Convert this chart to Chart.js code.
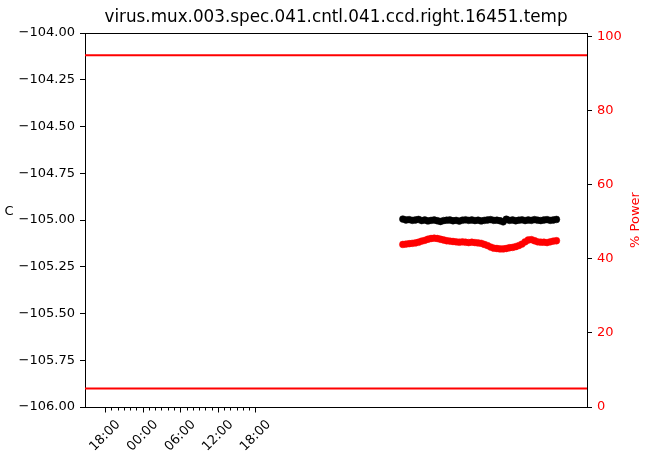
<!DOCTYPE html>
<html lang="en">
<head>
<meta charset="UTF-8">
<title>virus.mux.003.spec.041.cntl.041.ccd.right.16451.temp</title>
<style>
  html, body { margin: 0; padding: 0; background: #ffffff; }
  #wrap { width: 653px; height: 457px; }
</style>
</head>
<body>
<div id="wrap"><canvas id="chart" width="653" height="457"></canvas></div>
<script src="https://cdn.jsdelivr.net/npm/chart.js"></script>
<script>
// sample times, in hours after the first 18:00 tick
const hours = [
  47.5, 48.0, 48.5, 49.0, 49.5, 50.0, 50.5, 51.0, 51.5, 52.0,
  52.5, 53.0, 53.5, 54.0, 54.5, 55.0, 55.5, 56.0, 56.5, 57.0,
  57.5, 58.0, 58.5, 59.0, 59.5, 60.0, 60.5, 61.0, 61.5, 62.0,
  62.5, 63.0, 63.5, 64.0, 64.5, 65.0, 65.5, 66.0, 66.5, 67.0,
  67.5, 68.0, 68.5, 69.0, 69.5, 70.0, 70.5, 71.0, 71.5, 72.0
];
// ccd temperature, C
const tempC = [
  -104.995, -105.000, -104.998, -105.002, -105.000, -104.997, -105.003, -105.000, -105.005, -105.002,
  -105.000, -105.004, -105.008, -105.003, -105.001, -105.000, -105.004, -105.002, -105.006, -105.001,
  -104.999, -105.002, -105.000, -105.003, -105.001, -105.005, -105.002, -105.000, -104.998, -105.002,
  -105.001, -105.004, -105.010, -104.996, -105.002, -105.000, -105.004, -105.001, -104.999, -105.003,
  -105.000, -105.002, -104.998, -105.001, -105.003, -105.000, -104.998, -105.002, -105.000, -104.997
];
// heater power, %
const powerPct = [
  43.9, 44.0, 44.1, 44.2, 44.3, 44.5, 44.8, 45.0, 45.3, 45.5,
  45.6, 45.5, 45.3, 45.1, 44.9, 44.8, 44.7, 44.6, 44.5, 44.6,
  44.5, 44.4, 44.5, 44.4, 44.3, 44.2, 43.9, 43.6, 43.2, 42.9,
  42.8, 42.7, 42.7, 42.8, 43.0, 43.1, 43.3, 43.6, 44.0, 44.6,
  45.1, 45.2, 44.9, 44.6, 44.5, 44.5, 44.4, 44.6, 44.8, 44.9
];
// power limits, %
const powerLimits = [95, 5];
const xRange = [-3.19, 76.87];
const xTickHours = [0, 6, 12, 18, 24];
const xTickLabels = ['18:00', '00:00', '06:00', '12:00', '18:00'];
const xMinorHours = [1, 2, 3, 4, 5, 7, 8, 9, 10, 11, 13, 14, 15, 16, 17, 19, 20, 21, 22, 23];
const tempTicks = [-106, -105.75, -105.5, -105.25, -105, -104.75, -104.5, -104.25, -104];
const powerTicks = [0, 20, 40, 60, 80, 100];

const FONT = 'DejaVu Sans';
const RED = '#ff0000';

const fmtTemp = v => v.toFixed(2).replace('-', '\u2212');

const decorations = {
  id: 'decorations',
  afterDraw(chart) {
    const ctx = chart.ctx;
    const a = chart.chartArea;
    const x = chart.scales.x;
    ctx.save();
    ctx.strokeStyle = '#000';
    ctx.lineWidth = 1;
    // top spine
    ctx.beginPath();
    ctx.moveTo(a.left, Math.round(a.top) + 0.5);
    ctx.lineTo(a.right, Math.round(a.top) + 0.5);
    ctx.stroke();
    // x ticks
    const base = Math.round(a.bottom) + 0.5;
    ctx.beginPath();
    xTickHours.forEach(h => {
      const px = Math.round(x.getPixelForValue(h)) + 0.5;
      ctx.moveTo(px, base); ctx.lineTo(px, base + 5);
    });
    xMinorHours.forEach(h => {
      const px = Math.round(x.getPixelForValue(h)) + 0.5;
      ctx.moveTo(px, base); ctx.lineTo(px, base + 3);
    });
    ctx.stroke();
    // rotated x labels, bbox centred under the tick
    ctx.font = '13px "' + FONT + '"';
    ctx.fillStyle = '#000';
    ctx.textAlign = 'center';
    ctx.textBaseline = 'middle';
    xTickHours.forEach((h, i) => {
      const px = x.getPixelForValue(h);
      const w = ctx.measureText(xTickLabels[i]).width;
      const H = (w + 10) * Math.SQRT1_2;
      ctx.save();
      ctx.translate(px, a.bottom + 12 + H / 2);
      ctx.rotate(-Math.PI / 4);
      ctx.fillText(xTickLabels[i], 0, 0);
      ctx.restore();
    });
    // title
    ctx.font = '16.8px "' + FONT + '"';
    ctx.fillText('virus.mux.003.spec.041.cntl.041.ccd.right.16451.temp', (a.left + a.right) / 2, 18);
    // left label
    ctx.font = '13px "' + FONT + '"';
    ctx.fillText('C', 9, 212);
    // right label
    ctx.fillStyle = RED;
    ctx.save();
    ctx.translate(636, (a.top + a.bottom) / 2);
    ctx.rotate(-Math.PI / 2);
    ctx.fillText('% Power', 0, 0);
    ctx.restore();
    ctx.restore();
  }
};

const limitSets = powerLimits.map(v => ({
  data: [{ x: xRange[0], y: v }, { x: xRange[1], y: v }],
  borderColor: RED,
  borderWidth: 2,
  pointRadius: 0,
  yAxisID: 'yPower'
}));

new Chart(document.getElementById('chart'), {
  type: 'line',
  data: {
    datasets: [
      ...limitSets,
      {
        data: hours.map((h, i) => ({ x: h, y: tempC[i] })),
        borderColor: '#000',
        borderWidth: 1.5,
        pointRadius: 3.4,
        pointBackgroundColor: '#000',
        pointBorderColor: '#000',
        pointBorderWidth: 0.5,
        yAxisID: 'y'
      },
      {
        data: hours.map((h, i) => ({ x: h, y: powerPct[i] })),
        borderColor: RED,
        borderWidth: 1.5,
        pointRadius: 3.4,
        pointBackgroundColor: RED,
        pointBorderColor: RED,
        pointBorderWidth: 0.5,
        yAxisID: 'yPower'
      }
    ]
  },
  options: {
    responsive: false,
    animation: false,
    layout: { padding: { top: 33, left: 0, right: 0, bottom: 0 } },
    plugins: { legend: { display: false }, tooltip: { enabled: false }, title: { display: false } },
    scales: {
      x: {
        type: 'linear',
        min: xRange[0],
        max: xRange[1],
        afterBuildTicks: s => { s.ticks = xTickHours.map(v => ({ value: v })); },
        afterFit: s => { s.height = 50; },
        ticks: { display: false },
        grid: { display: false },
        border: { display: true, color: '#000', width: 1 }
      },
      y: {
        position: 'left',
        min: -106,
        max: -104,
        afterBuildTicks: s => { s.ticks = tempTicks.map(v => ({ value: v })); },
        afterFit: s => { s.width = 85; },
        ticks: {
          callback: v => fmtTemp(v),
          color: '#000',
          padding: 5,
          font: { family: FONT, size: 13 }
        },
        grid: { display: true, drawOnChartArea: false, tickLength: 5, tickColor: '#000' },
        border: { display: true, color: '#000', width: 1 }
      },
      yPower: {
        position: 'right',
        min: 0,
        max: 101,
        afterBuildTicks: s => { s.ticks = powerTicks.map(v => ({ value: v })); },
        afterFit: s => { s.width = 66; },
        ticks: {
          color: RED,
          padding: 5,
          font: { family: FONT, size: 13 }
        },
        grid: { display: true, drawOnChartArea: false, tickLength: 5, tickColor: '#000' },
        border: { display: true, color: '#000', width: 1 }
      }
    }
  },
  plugins: [decorations]
});
</script>
</body>
</html>
